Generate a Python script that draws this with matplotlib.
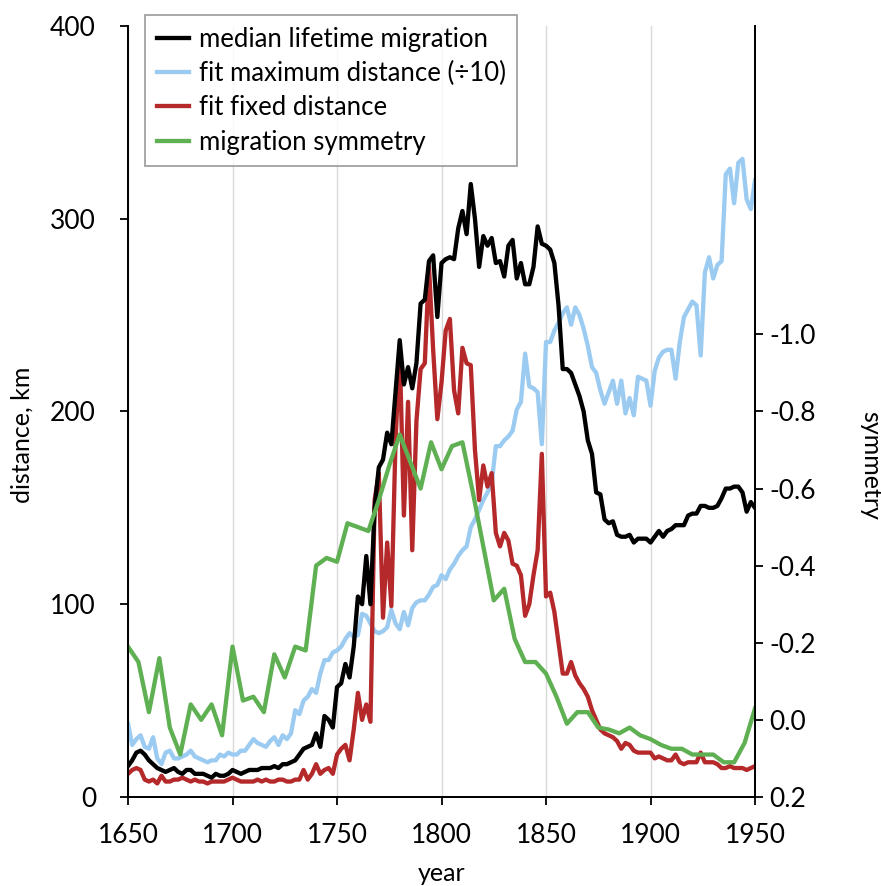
import numpy as np
import matplotlib.pyplot as plt

plt.rcParams['font.family'] = ['Lato', 'DejaVu Sans']

# every-second-year series, 1650-1950
years = np.arange(1650, 1951, 2)

median_migration = [
    16, 19, 23, 24, 22, 19, 17, 15, 14, 13,
    14, 15, 13, 12, 14, 14, 12, 12, 12, 11,
    10, 12, 11, 11, 12, 14, 13, 12, 13, 14,
    14, 14, 15, 15, 15, 16, 15, 17, 17, 18,
    19, 22, 25, 26, 27, 33, 26, 42, 40, 36,
    57, 59, 69, 62, 78, 104, 100, 125, 100, 150,
    171, 175, 189, 183, 210, 237, 214, 223, 212, 225,
    256, 258, 278, 281, 249, 277, 279, 280, 279, 295,
    304, 292, 318, 300, 275, 291, 286, 290, 277, 278,
    270, 286, 289, 269, 277, 266, 266, 275, 296, 287,
    286, 284, 277, 255, 222, 222, 220, 214, 208, 200,
    185, 178, 158, 157, 144, 142, 143, 136, 135, 135,
    136, 132, 134, 134, 134, 132, 135, 138, 135, 138,
    139, 141, 141, 141, 146, 147, 147, 151, 151, 150,
    150, 151, 155, 160, 160, 161, 161, 158, 148, 153,
    150,
]

fit_max_distance = [
    38, 27, 30, 32, 26, 25, 31, 20, 17, 23,
    24, 20, 20, 21, 22, 24, 21, 20, 19, 18,
    19, 19, 22, 21, 23, 22, 22, 24, 24, 27,
    30, 28, 27, 26, 29, 31, 27, 32, 30, 33,
    45, 43, 50, 52, 56, 54, 64, 71, 71, 75,
    76, 78, 82, 85, 83, 84, 95, 94, 90, 86,
    85, 86, 88, 97, 90, 87, 96, 89, 98, 101,
    102, 102, 105, 109, 110, 115, 113, 118, 121, 125,
    128, 130, 140, 144, 149, 154, 158, 163, 182, 182,
    185, 187, 190, 201, 205, 230, 213, 212, 210, 183,
    236, 236, 242, 246, 251, 254, 245, 254, 250, 243,
    234, 223, 220, 211, 204, 210, 216, 204, 216, 199,
    207, 198, 218, 217, 216, 203, 221, 228, 231, 232,
    232, 217, 236, 249, 253, 257, 255, 229, 272, 280,
    269, 276, 278, 323, 326, 308, 329, 331, 310, 305,
    320,
]

fit_fixed_distance = [
    12, 14, 15, 14, 9, 8, 9, 7, 11, 8,
    8, 9, 9, 10, 9, 8, 9, 8, 8, 7,
    8, 8, 8, 8, 9, 10, 9, 8, 8, 8,
    8, 9, 8, 9, 8, 8, 9, 9, 8, 8,
    9, 9, 14, 9, 12, 17, 12, 14, 15, 12,
    22, 25, 27, 19, 35, 54, 40, 48, 39, 154,
    168, 93, 132, 99, 185, 232, 146, 205, 128, 195,
    222, 225, 275, 232, 196, 215, 242, 248, 211, 199,
    233, 225, 224, 180, 154, 172, 161, 168, 137, 130,
    137, 133, 121, 120, 115, 94, 100, 115, 128, 178,
    104, 106, 96, 80, 64, 64, 70, 63, 59, 56,
    52, 45, 40, 35, 33, 32, 31, 29, 25, 28,
    27, 24, 23, 23, 23, 23, 20, 21, 20, 19,
    19, 22, 18, 17, 18, 18, 18, 23, 18, 18,
    18, 17, 15, 15, 16, 15, 15, 15, 14, 15,
    16,
]

# five-year series on the right axis
sym_years = np.arange(1650, 1951, 5)
symmetry = [
    -0.19, -0.15, -0.02, -0.16, 0.02, 0.09, -0.04, 0.00, -0.04, 0.04,
    -0.19, -0.05, -0.06, -0.02, -0.17, -0.11, -0.19, -0.18, -0.40, -0.42,
    -0.41, -0.51, -0.50, -0.49, -0.57, -0.66, -0.74, -0.67, -0.60, -0.72,
    -0.65, -0.71, -0.72, -0.59, -0.45, -0.31, -0.34, -0.21, -0.15, -0.15,
    -0.12, -0.06, 0.01, -0.02, -0.02, 0.02, 0.025, 0.035, 0.02, 0.04,
    0.05, 0.065, 0.075, 0.075, 0.09, 0.09, 0.09, 0.11, 0.11, 0.06,
    -0.03,
]

c_black = '#000000'
c_blue = '#9ccbf2'
c_red = '#b5292b'
c_green = '#5fb052'
lw = 3.1
fs_tick = 19
fs_label = 18

fig = plt.figure(figsize=(8.81, 8.86), dpi=100)
ax = fig.add_axes([0.1453, 0.1005, 0.7117, 0.8702])
ax2 = ax.twinx()

l1, = ax.plot(years, median_migration, color=c_black, lw=lw, zorder=4)
l2, = ax.plot(years, fit_max_distance, color=c_blue, lw=lw, zorder=2)
l3, = ax.plot(years, fit_fixed_distance, color=c_red, lw=lw, zorder=3)
l4, = ax2.plot(sym_years, symmetry, color=c_green, lw=lw)

ax.set_xlim(1650, 1950)
ax.set_ylim(0, 400)
ax.set_xticks(np.arange(1650, 1951, 50))
ax.set_yticks(np.arange(0, 401, 100))
ax.xaxis.grid(True, color='#d9d9d9', lw=1)
ax.set_axisbelow(True)

ax2.set_ylim(0.2, -1.8)
sym_ticks = [0.2, 0.0, -0.2, -0.4, -0.6, -0.8, -1.0]
ax2.set_yticks(sym_ticks)
ax2.set_yticklabels(['%.1f' % t if t != 0 else '0.0' for t in sym_ticks])

for a in (ax, ax2):
    a.spines['top'].set_visible(False)
    for s in a.spines.values():
        s.set_linewidth(1.3)
    a.tick_params(labelsize=fs_tick, length=6, width=1.3, direction='out')
ax.tick_params(axis='x', pad=13)
ax.tick_params(axis='y', pad=17)
ax2.tick_params(axis='y', pad=4)

ax.set_xlabel('year', fontsize=fs_label, labelpad=10)
ax.set_ylabel('distance, km', fontsize=fs_label, labelpad=12)
ax2.set_ylabel('symmetry', fontsize=fs_label, rotation=270, labelpad=48)
# axis titles sit a little below the middle of the plot
ax.yaxis.label.set_y(0.47)
ax2.yaxis.label.set_y(0.43)

leg = ax.legend([l1, l2, l3, l4],
                ['median lifetime migration', 'fit maximum distance (\u00f710)',
                 'fit fixed distance', 'migration symmetry'],
                loc='upper left', bbox_to_anchor=(0.027, 1.014), fontsize=18.5,
                frameon=True, fancybox=False, edgecolor='#808080',
                handlelength=1.25, handletextpad=0.4, labelspacing=0.36,
                borderpad=0.45, borderaxespad=0)
leg.get_frame().set_linewidth(1.2)
leg.set_zorder(10)

fig.savefig('out.png', dpi=100)
